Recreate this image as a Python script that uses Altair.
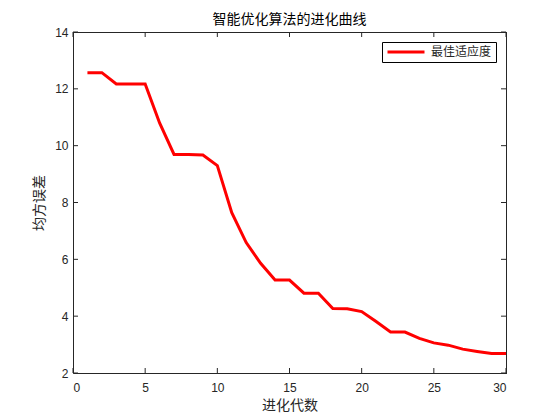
import altair as alt
import pandas as pd

# Data
generations = [1, 2, 3, 4, 5, 6, 7, 8, 9, 10, 11, 12, 13, 14, 15,
               16, 17, 18, 19, 20, 21, 22, 23, 24, 25, 26, 27, 28, 29, 30]
mse = [12.57, 12.57, 12.17, 12.17, 12.17, 10.80, 9.69, 9.69, 9.67, 9.30,
       7.64, 6.59, 5.86, 5.27, 5.27, 4.81, 4.81, 4.27, 4.26, 4.16,
       3.81, 3.44, 3.44, 3.22, 3.06, 2.98, 2.84, 2.76, 2.69, 2.69]
series_name = "最佳适应度"
x_ticks = [0, 5, 10, 15, 20, 25, 30]
y_ticks = [2, 4, 6, 8, 10, 12, 14]

W, H = 433, 341
AX = "#262626"
CJK = "Noto Sans CJK SC"
NUM = "Liberation Sans"

df = pd.DataFrame({"gen": generations, "mse": mse, "series": [series_name] * len(mse)})
xt = pd.DataFrame({"gen": x_ticks})
yt = pd.DataFrame({"mse": y_ticks})

xscale = alt.Scale(domain=[0, 30], nice=False, zero=False)
yscale = alt.Scale(domain=[2, 14], nice=False, zero=False)

xaxis = alt.Axis(values=x_ticks, ticks=False, grid=False, labelPadding=9,
                 labelFont=NUM, labelFontSize=12, labelColor=AX,
                 titleFont=CJK, titleFontSize=14, titleFontWeight="normal",
                 titleColor=AX, titlePadding=5, domainColor=AX)
yaxis = alt.Axis(values=y_ticks, ticks=False, grid=False, labelPadding=5,
                 labelFont=NUM, labelFontSize=12, labelColor=AX,
                 titleFont=CJK, titleFontSize=14, titleFontWeight="normal",
                 titleColor=AX, titlePadding=8, domainColor=AX)

line = alt.Chart(df).mark_line(strokeWidth=3, clip=True).encode(
    x=alt.X("gen:Q", scale=xscale, title="进化代数", axis=xaxis),
    y=alt.Y("mse:Q", scale=yscale, title="均方误差", axis=yaxis),
    color=alt.Color("series:N",
                    scale=alt.Scale(domain=[series_name], range=["#ff0000"]),
                    legend=alt.Legend(title=None, orient="top-right", offset=10,
                                      symbolType="stroke", symbolSize=1369,
                                      symbolStrokeWidth=3, labelFont=CJK,
                                      labelFontSize=12, labelColor=AX,
                                      labelOffset=5, padding=4, clipHeight=12,
                                      strokeColor="black", fillColor="white")),
)

tick_len = 5
xb = alt.Chart(xt).mark_rule(color=AX, strokeWidth=1).encode(
    x=alt.X("gen:Q", scale=xscale, title="进化代数", axis=xaxis),
    y=alt.value(H), y2=alt.value(H - tick_len))
xtop = alt.Chart(xt).mark_rule(color=AX, strokeWidth=1).encode(
    x=alt.X("gen:Q", scale=xscale, title="进化代数", axis=xaxis),
    y=alt.value(0), y2=alt.value(tick_len))
yl = alt.Chart(yt).mark_rule(color=AX, strokeWidth=1).encode(
    y=alt.Y("mse:Q", scale=yscale, title="均方误差", axis=yaxis),
    x=alt.value(0), x2=alt.value(tick_len))
yr = alt.Chart(yt).mark_rule(color=AX, strokeWidth=1).encode(
    y=alt.Y("mse:Q", scale=yscale, title="均方误差", axis=yaxis),
    x=alt.value(W), x2=alt.value(W - tick_len))

# top and right frame lines (box on)
frame_top = alt.Chart(xt).mark_rule(color=AX, strokeWidth=1).encode(
    x=alt.value(0), x2=alt.value(W + 1), y=alt.value(0.5))
frame_right = alt.Chart(yt).mark_rule(color=AX, strokeWidth=1).encode(
    x=alt.value(W + 0.5), y=alt.value(0), y2=alt.value(H + 1))

chart = alt.layer(line, xb, xtop, yl, yr, frame_top, frame_right).properties(
    width=W, height=H,
    title=alt.TitleParams("智能优化算法的进化曲线", font=CJK, fontSize=14,
                          fontWeight="normal", color="black", anchor="middle",
                          offset=1, dy=2),
    autosize=alt.AutoSizeParams(type="none"),
    padding={"left": 65, "top": 24, "right": 30, "bottom": 46},
).configure_view(stroke=None).configure(background="white")

chart.save("out.html", embed_options={"renderer": "svg", "actions": False})
